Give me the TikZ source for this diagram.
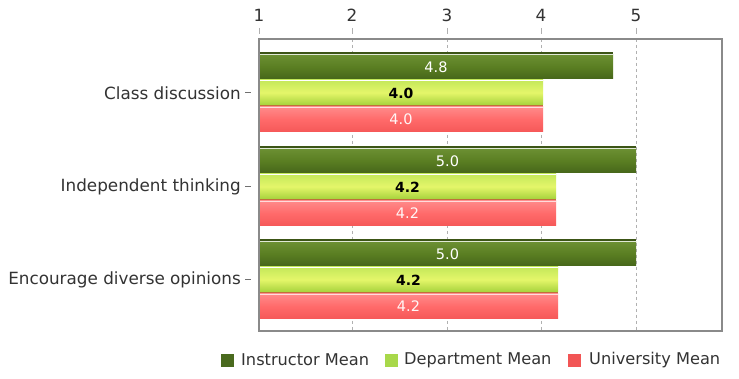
\documentclass[tikz,border=0pt]{standalone}
\usepackage{fontspec}
\setmainfont{DejaVu Sans}
\definecolor{txt}{HTML}{333333}
\definecolor{frame}{HTML}{8A8A8A}
\definecolor{grid}{HTML}{B0B0B0}
\definecolor{instTop}{HTML}{6B8F32}
\definecolor{instMid}{HTML}{5A7E22}
\definecolor{instBot}{HTML}{46661A}
\definecolor{instEdge}{HTML}{3C5516}
\definecolor{depTop}{HTML}{C4E85A}
\definecolor{depMid}{HTML}{E4F66A}
\definecolor{depBot}{HTML}{A6D23C}
\definecolor{depEdge}{HTML}{C0703A}
\definecolor{uniTop}{HTML}{FF8A8A}
\definecolor{uniMid}{HTML}{FF6A6A}
\definecolor{uniBot}{HTML}{F55858}
\definecolor{legInst}{HTML}{4A6A1E}
\definecolor{legDep}{HTML}{A8D84A}
\definecolor{legUni}{HTML}{F25555}
\begin{document}
\begin{tikzpicture}[x=1pt,y=-1pt,
  lab/.style={font=\fontsize{16.8}{18}\selectfont,text=txt,inner sep=0pt},
  leglab/.style={font=\fontsize{16.2}{18}\selectfont,text=txt,inner sep=0pt,anchor=west},
  val/.style={font=\fontsize{14.5}{16}\selectfont,inner sep=0pt},
  instbar/.style={top color=instTop,bottom color=instBot,middle color=instMid,draw=none},
  depbar/.style={top color=depTop,bottom color=depBot,middle color=depMid,draw=none},
  unibar/.style={top color=uniTop,bottom color=uniBot,middle color=uniMid,draw=none},
  gridline/.style={draw=grid,dashed,line width=0.8pt},
  tickmark/.style={draw=grid,line width=1pt},
  legsq/.style={minimum size=13pt,inner sep=0pt}]
\useasboundingbox (0,0) rectangle (739,379);
\fill[white] (0,0) rectangle (739,379);
% grid lines
\foreach \x in {352,447,541,636} {
  \draw[gridline] (\x,39) -- (\x,331);
}
% top tick marks and labels
\foreach \x/\t in {259/1,352/2,447/3,541/4,636/5} {
  \draw[tickmark] (\x,28) -- (\x,34);
  \node[lab] (t\t) at (\x,15) {\t};
}
% groups
\foreach \c/\ie/\de/\ue/\iv/\dv/\uv/\n/\name in {
   92/613/543/543/4.8/4.0/4.0/g1/Class discussion,
   186/636/556/556/5.0/4.2/4.2/g2/Independent thinking,
   279/636/558/558/5.0/4.2/4.2/g3/Encourage diverse opinions} {
  % instructor
  \fill[instEdge] (259,\c-40) rectangle (\ie,\c-37);
  \fill[instbar] (259,\c-37) rectangle (\ie,\c-13);
  \draw[white!80!instTop,line width=0.8pt] (259,\c-37.5) -- (\ie,\c-37.5);
  \node[val,text=white] (\n i) at ({(259+\ie)/2},\c-25) {\iv};
  % department
  \fill[depbar] (259,\c-12) rectangle (\de,\c+13);
  \draw[white,line width=0.8pt] (259,\c-11.5) -- (\de,\c-11.5);
  \fill[depEdge] (259,\c+13) rectangle (\de,\c+15);
  \node[val,text=black,font=\fontsize{14}{16}\selectfont\bfseries] (\n d) at ({(259+\de)/2},\c+1) {\dv};
  % university
  \fill[unibar] (259,\c+15) rectangle (\ue,\c+40);
  \draw[white!70!uniTop,line width=0.6pt] (259,\c+15.5) -- (\ue,\c+15.5);
  \node[val,text=white!92!uniTop] (\n u) at ({(259+\ue)/2},\c+27) {\uv};
  % category label and tick
  \draw[tickmark,draw=txt!70] (245,\c+1) -- (251,\c+1);
  \node[lab,anchor=east] (\n l) at (241,\c+1) {\name};
}
% frame
\draw[frame,line width=1.4pt] (259,39) rectangle (722,331);
% legend
\node[legsq,fill=legInst] (sq1) at (227,360) {};
\node[leglab] (l1) at (241,360) {Instructor Mean};
\node[legsq,fill=legDep] (sq2) at (391,360) {};
\node[leglab] (l2) at (404,360) {Department Mean};
\node[legsq,fill=legUni] (sq3) at (574,360) {};
\node[leglab] (l3) at (589,360) {University Mean};
\end{tikzpicture}
\end{document}
